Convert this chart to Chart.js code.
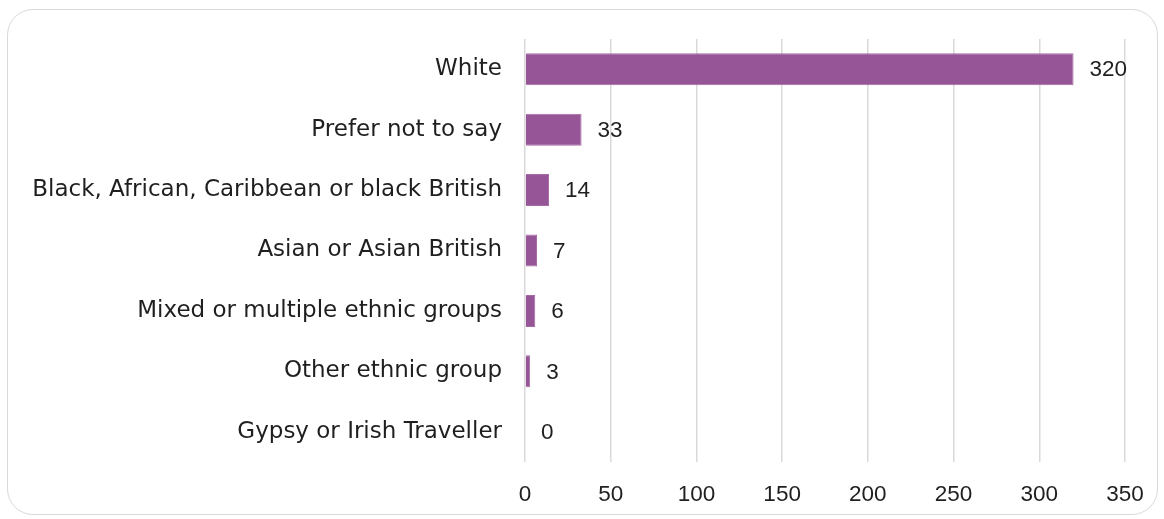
<!DOCTYPE html>
<html>
<head>
<meta charset="utf-8">
<script src="https://cdn.jsdelivr.net/npm/chart.js@4/dist/chart.umd.min.js"></script>
<style>
  html, body { margin: 0; padding: 0; background: #fff; }
  #wrap { position: relative; width: 1164px; height: 519px; }
  #frame {
    position: absolute; left: 7px; top: 9px; width: 1151px; height: 506px;
    border: 1.5px solid #d9d9d9; border-radius: 26px; box-sizing: border-box;
  }
  canvas { position: absolute; left: 0; top: 0; }
</style>
</head>
<body>
<div id="wrap">
  <div id="frame"></div>
  <canvas id="chart" width="1164" height="519"></canvas>
</div>
<script>
// Respondents by ethnic group
const categories = [
  'White',
  'Prefer not to say',
  'Black, African, Caribbean or black British',
  'Asian or Asian British',
  'Mixed or multiple ethnic groups',
  'Other ethnic group',
  'Gypsy or Irish Traveller'
];
const counts = [320, 33, 14, 7, 6, 3, 0];
const xTicks = [0, 50, 100, 150, 200, 250, 300, 350];

const labelFont = { family: "'DejaVu Sans', sans-serif", size: 23 };
const numberFont = { family: "'Liberation Sans', Arial, sans-serif", size: 22.5 };
const textColor = '#1f1f1f';

// Writes each bar's value just past its end
const valueLabels = {
  id: 'valueLabels',
  afterDatasetsDraw(chart) {
    const ctx = chart.ctx;
    const meta = chart.getDatasetMeta(0);
    ctx.save();
    ctx.font = numberFont.size + 'px ' + numberFont.family;
    ctx.fillStyle = textColor;
    ctx.textAlign = 'left';
    ctx.textBaseline = 'middle';
    meta.data.forEach((bar, i) => {
      ctx.fillText(String(counts[i]), bar.x + 16, bar.y + 1);
    });
    ctx.restore();
  }
};

new Chart(document.getElementById('chart'), {
  type: 'bar',
  data: {
    labels: categories,
    datasets: [{
      data: counts,
      backgroundColor: '#955596',
      borderColor: '#a66aa7',
      borderWidth: 1,
      barPercentage: 0.53,
      categoryPercentage: 1
    }]
  },
  options: {
    indexAxis: 'y',
    responsive: false,
    animation: false,
    layout: { padding: { left: 0, right: 39, top: 39, bottom: 0 } },
    plugins: { legend: { display: false }, tooltip: { enabled: false } },
    scales: {
      x: {
        min: 0, max: 350,
        afterBuildTicks(scale) { scale.ticks = xTicks.map(v => ({ value: v })); },
        afterFit(scale) { scale.height = 57; },
        grid: { color: '#d9d9d9', lineWidth: 1.5, drawTicks: false },
        border: { display: false },
        ticks: { color: textColor, font: numberFont, padding: 19 }
      },
      y: {
        afterFit(scale) { scale.width = 525; },
        grid: { display: false },
        border: { display: false },
        ticks: { color: textColor, font: labelFont, padding: 15 }
      }
    }
  },
  plugins: [valueLabels]
});
</script>
</body>
</html>
